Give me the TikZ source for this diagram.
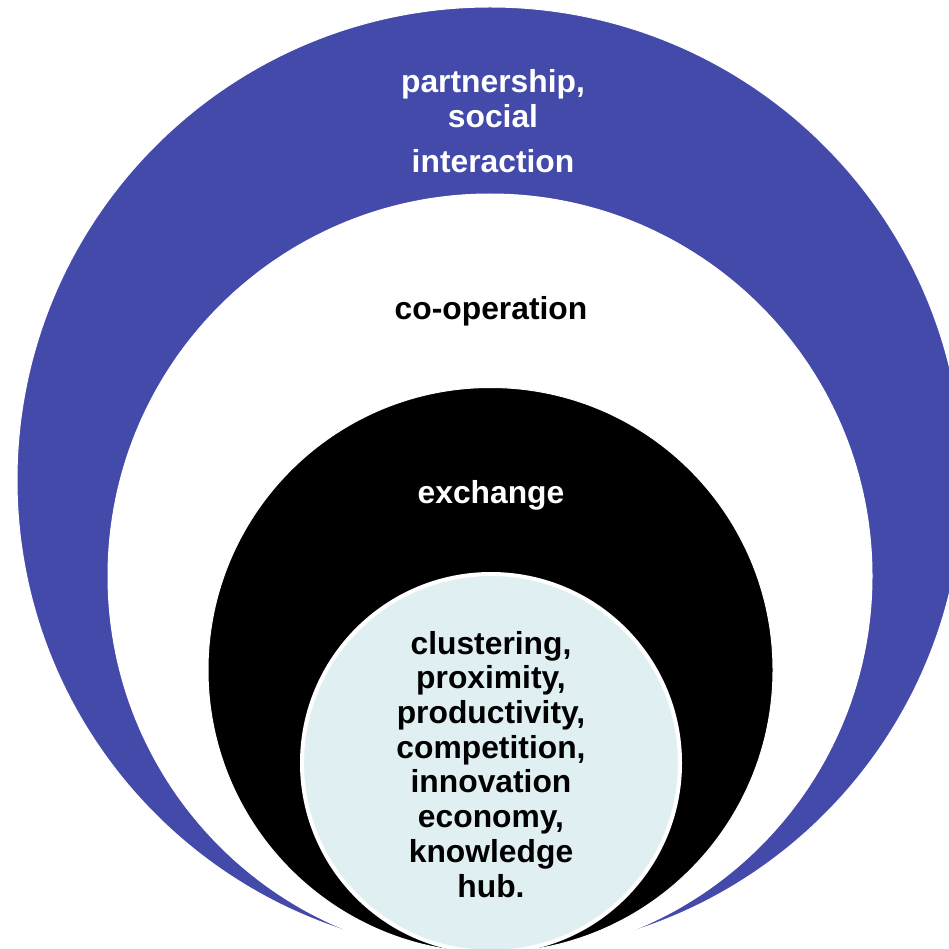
\documentclass[tikz,border=0pt]{standalone}
\usepackage{fontspec}
\setmainfont{Liberation Sans}
\definecolor{ringblue}{RGB}{68,74,170}
\definecolor{corelight}{RGB}{224,239,242}
\begin{document}
\begin{tikzpicture}[x=1pt,y=-1pt,
  ring/.style={circle,inner sep=0pt,draw=white,line width=1pt},
  lbl/.style={inner sep=0pt,align=center,anchor=base,
    font=\fontsize{31.8}{34.7}\selectfont\bfseries}]
\useasboundingbox (0,0) rectangle (949,949);
\clip (0,0) rectangle (949,949);
\node[ring,fill=ringblue,minimum size=946pt] (outer) at (490,480) {};
\node[ring,fill=white,minimum size=764pt] (coop) at (490,576) {};
\node[ring,fill=black,minimum size=565pt] (exch) at (490.5,670) {};
\node[ring,fill=corelight,line width=4pt,minimum size=378pt] (core) at (491,763) {};
\node[lbl,text=white] (t1) at (493,173) {partnership,\\social\\[11pt]interaction};
\node[lbl,text=black] (t2) at (491,319) {co-operation};
\node[lbl,text=white] (t3) at (491,503) {exchange};
\node[lbl,text=black] (t4) at (491,897) {clustering,\\proximity,\\productivity,\\competition,\\innovation\\economy,\\knowledge\\hub.};
\end{tikzpicture}
\end{document}
